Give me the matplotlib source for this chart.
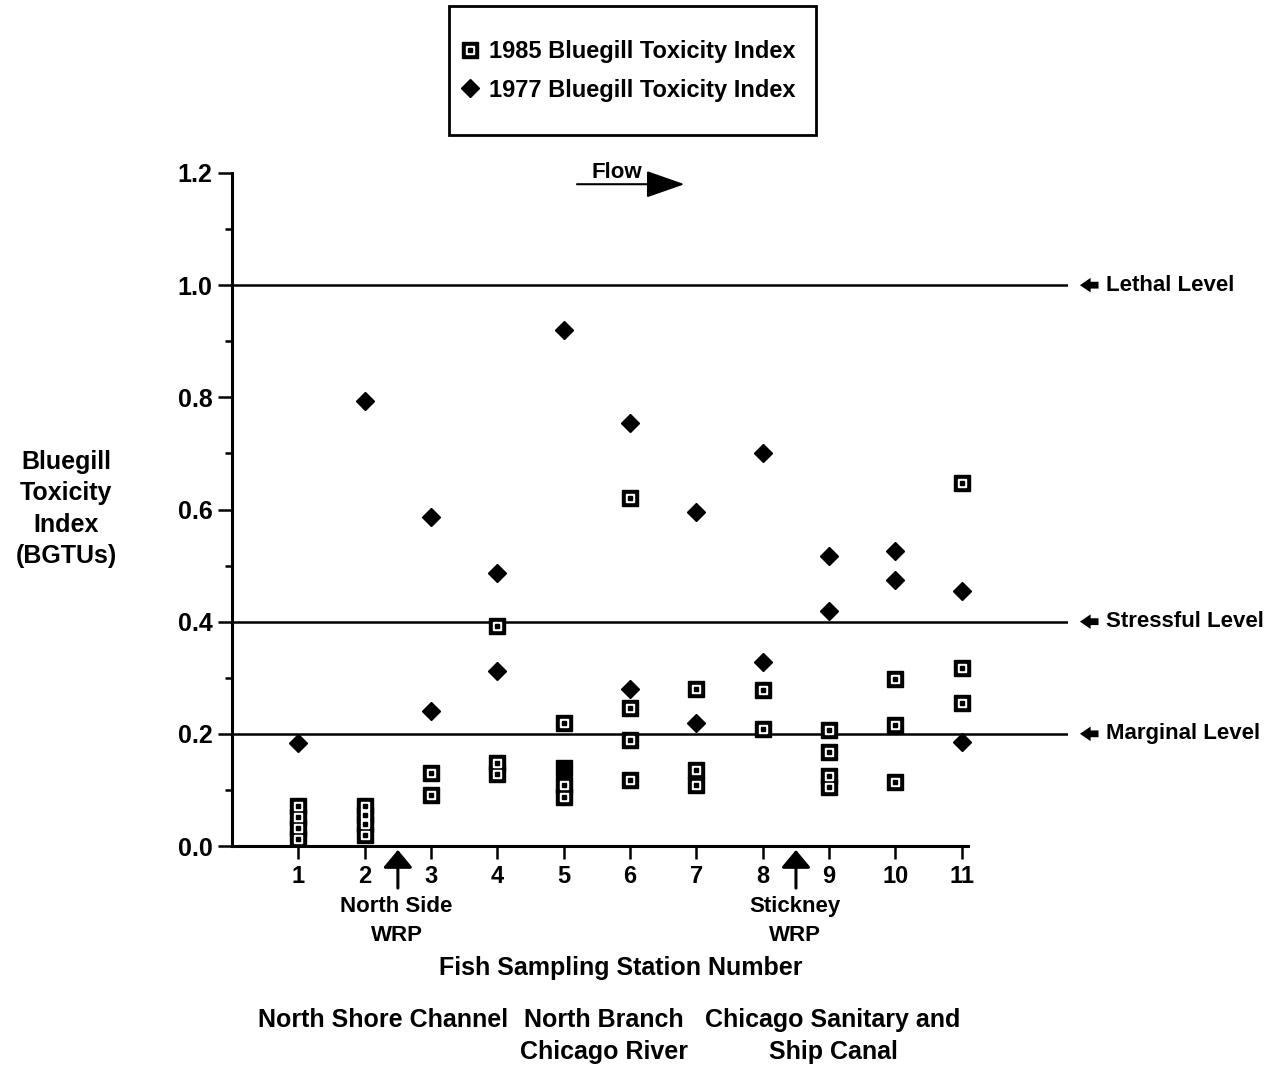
import matplotlib
matplotlib.use("Agg")
import matplotlib.pyplot as plt
from matplotlib.lines import Line2D
from matplotlib.patches import Rectangle

plt.rcParams['font.family'] = ['Liberation Sans', 'DejaVu Sans']
plt.rcParams['font.weight'] = 'bold'

# 1977 bluegill toxicity index (diamonds)
st_1977 = [1, 2, 3, 3, 4, 4, 5, 6, 6, 7, 7, 8, 8, 9, 9, 10, 10, 11, 11]
bgtu_1977 = [0.184, 0.793, 0.586, 0.241, 0.487, 0.312, 0.920, 0.754, 0.280,
             0.595, 0.219, 0.700, 0.328, 0.517, 0.419, 0.526, 0.474, 0.455, 0.185]

# 1985 bluegill toxicity index (squares)
st_1985 = [1, 1, 1, 1, 2, 2, 2, 2, 3, 3, 4, 4, 4, 5, 5, 5, 6, 6, 6, 6,
           7, 7, 7, 8, 8, 9, 9, 9, 9, 10, 10, 10, 11, 11, 11]
bgtu_1985 = [0.071, 0.052, 0.032, 0.012, 0.071, 0.055, 0.039, 0.020,
             0.130, 0.091, 0.392, 0.148, 0.128, 0.219, 0.109, 0.087,
             0.620, 0.246, 0.189, 0.118, 0.280, 0.135, 0.109, 0.278, 0.209,
             0.207, 0.168, 0.125, 0.105, 0.298, 0.216, 0.114, 0.647, 0.317, 0.255]
# one overprinted (solid) square at station 5
st_solid = [5]
bgtu_solid = [0.139]

levels = [1.0, 0.4, 0.2]
level_names = ["Lethal Level", "Stressful Level", "Marginal Level"]
stations = list(range(1, 12))

W, H = 1283, 1069
fig = plt.figure(figsize=(W / 100, H / 100), dpi=100)
ax = fig.add_axes([232 / W, 1 - 846 / H, (1068 - 232) / W, (846 - 173) / H])
ax.set_xlim(0, 12.6)
ax.set_ylim(0, 1.2)

for s in ['top', 'right']:
    ax.spines[s].set_visible(False)
ax.spines['left'].set_linewidth(2.2)
ax.spines['bottom'].set_linewidth(2.2)
ax.spines['bottom'].set_bounds(0, 11.1)

ax.set_yticks([0.0, 0.2, 0.4, 0.6, 0.8, 1.0, 1.2])
ax.set_yticklabels(["0.0", "0.2", "0.4", "0.6", "0.8", "1.0", "1.2"])
ax.set_yticks([0.1, 0.3, 0.5, 0.7, 0.9, 1.1], minor=True)
ax.set_xticks(stations)
ax.set_xticklabels([str(s) for s in stations])
ax.tick_params(axis='y', which='major', length=10, width=1.8, labelsize=18, pad=4)
ax.tick_params(axis='y', which='minor', length=5, width=1.8)
ax.tick_params(axis='x', which='major', length=9, width=1.8, labelsize=17, pad=5)

for lv in levels:
    ax.axhline(lv, color='black', lw=1.8)

# squares
ax.plot(st_1985, bgtu_1985, 's', color='black', ms=11, ls='none', zorder=3)
ax.plot(st_1985, bgtu_1985, 's', color='white', ms=5.5, ls='none', zorder=4)
ax.plot(st_1985, bgtu_1985, 's', color='black', ms=2.4, ls='none', zorder=5)
ax.plot(st_solid, bgtu_solid, 's', color='black', ms=11, ls='none', zorder=3)
# diamonds
ax.plot(st_1977, bgtu_1977, 'D', color='black', ms=9, ls='none', zorder=3)

# level labels with short fat arrows
for lv, name in zip(levels, level_names):
    ax.annotate('', xy=(12.78, lv), xytext=(13.06, lv),
                arrowprops=dict(arrowstyle='simple,head_length=0.55,head_width=0.75,tail_width=0.35',
                                color='black', lw=0, mutation_scale=14,
                                shrinkA=0, shrinkB=0),
                annotation_clip=False)
    ax.text(13.18, lv, name, fontsize=16, va='center', ha='left', clip_on=False)

# flow arrow
ax.text(5.8, 1.2, "Flow", fontsize=16, ha='center', va='center')
ax.annotate('', xy=(6.82, 1.18), xytext=(5.2, 1.18),
            arrowprops=dict(arrowstyle='-|>,head_length=1.2,head_width=0.42',
                            color='black', lw=1.5, mutation_scale=20,
                            shrinkA=0, shrinkB=0),
            annotation_clip=False)

# WRP arrows
for x, label in [(2.5, "North Side\nWRP"), (8.5, "Stickney\nWRP")]:
    ax.annotate('', xy=(x, -0.007), xytext=(x, -0.075),
                arrowprops=dict(arrowstyle='-|>,head_length=0.6,head_width=0.5',
                                color='black', lw=2.2, mutation_scale=18,
                                shrinkA=0, shrinkB=0),
                annotation_clip=False)
    ax.text(x - 0.02, -0.09, label, fontsize=16, ha='center', va='top',
            linespacing=1.45, clip_on=False)

fig.text(621 / W, 1 - 968 / H, "Fish Sampling Station Number", fontsize=18,
         ha='center', va='center')
fig.text(383 / W, 1 - 1020 / H, "North Shore Channel", fontsize=18,
         ha='center', va='center')
fig.text(604 / W, 1 - 1036 / H, "North Branch\nChicago River", fontsize=18,
         ha='center', va='center', linespacing=1.4)
fig.text(833 / W, 1 - 1036 / H, "Chicago Sanitary and\nShip Canal", fontsize=18,
         ha='center', va='center', linespacing=1.4)

fig.text(66 / W, 1 - 509 / H, "Bluegill\nToxicity\nIndex\n(BGTUs)", fontsize=18,
         ha='center', va='center', linespacing=1.4)

# legend box
fig.patches.append(Rectangle((449 / W, 1 - 135 / H), (816 - 449) / W, 129 / H,
                             transform=fig.transFigure, fill=False,
                             edgecolor='black', lw=2))
h_sq = (Line2D([], [], marker='s', color='black', ms=11, ls='none'),
        Line2D([], [], marker='s', color='white', ms=5.5, ls='none'),
        Line2D([], [], marker='s', color='black', ms=2.4, ls='none'))
h_di = Line2D([], [], marker='D', color='black', ms=9, ls='none')
fig.legend([h_sq, h_di], ["1985 Bluegill Toxicity Index", "1977 Bluegill Toxicity Index"],
           loc='center', bbox_to_anchor=(627 / W, 1 - 71 / H), frameon=False,
           fontsize=17, handletextpad=0.3, labelspacing=0.65, handlelength=1.0)

fig.savefig("out.png", dpi=100)
